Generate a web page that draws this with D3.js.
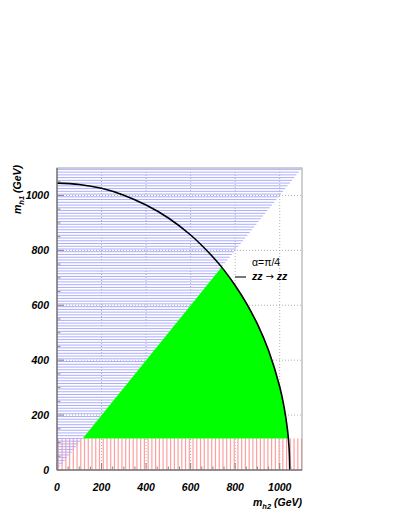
<!DOCTYPE html>
<html><head><meta charset="utf-8">
<script src="https://cdn.jsdelivr.net/npm/d3@7"></script>
<style>
body{margin:0;background:#fff;}
svg{display:block;}
text{font-family:"Liberation Sans",Arial,sans-serif;}
</style></head>
<body>
<script>
// ---- data ----
const xDomain = [0, 1100];
const yDomain = [0, 1100];
const xTicks = [0, 200, 400, 600, 800, 1000];
const yTicks = [0, 200, 400, 600, 800, 1000];
const minorStep = 50;
const lowCut = 115;            // m_h lower cut (GeV)
// unitarity boundary (m_h2, m_h1)
const boundary = [[0,1045],[100,1040],[200,1026],[300,1001],[400,965],[500,918],[600,856],
  [700,776],[750,728],[800,672],[850,608],[900,531],[950,435],[1000,303],[1020,227],[1035,145],[1042,80],[1045,0]];
// allowed region corners (diagonal m_h1 = m_h2 above the cut)
const allowedRegion = [[lowCut,lowCut],[1100,1100],[1100,lowCut]];
// hatch line levels (GeV)
const blueHatch = d3.range(5, 1100, 10);
const redHatch = d3.range(6, 1100, 16.8);
const legendAlpha = "α=π/4";
const legendProc = ["zz", "→", "zz"];

const W = 407, H = 527;
const svg = d3.select("body").append("svg").attr("width", W).attr("height", H);
const x = d3.scaleLinear().domain(xDomain).range([57, 302]);
const y = d3.scaleLinear().domain(yDomain).range([470, 168]);

// grid
const g = svg.append("g");
g.selectAll(".gx").data(xTicks.filter(d => d > 0)).join("line")
  .attr("x1", d => x(d)).attr("x2", d => x(d)).attr("y1", y(0)).attr("y2", y(1100))
  .attr("stroke", "#b0b0b0").attr("stroke-width", 1).attr("stroke-dasharray", "1,2");
g.selectAll(".gy").data(yTicks.filter(d => d > 0)).join("line")
  .attr("y1", d => y(d)).attr("y2", d => y(d)).attr("x1", x(0)).attr("x2", x(1100))
  .attr("stroke", "#b0b0b0").attr("stroke-width", 1).attr("stroke-dasharray", "1,2");

// red vertical hatch (m_h1 below cut)
g.selectAll(".rh").data(redHatch).join("line")
  .attr("x1", d => x(d)).attr("x2", d => x(d)).attr("y1", y(0)).attr("y2", y(lowCut))
  .attr("stroke", "#ff9e9e").attr("stroke-width", 1.2);

// blue horizontal hatch (m_h1 > m_h2)
g.selectAll(".bh").data(blueHatch).join("line")
  .attr("y1", d => y(d)).attr("y2", d => y(d)).attr("x1", x(0)).attr("x2", d => x(Math.min(d, 1100)))
  .attr("stroke", "#acacff").attr("stroke-width", 1);

// clip: inside the boundary
const defs = svg.append("defs");
const lineGen = d3.line().x(d => x(d[0])).y(d => y(d[1])).curve(d3.curveCatmullRom);
defs.append("clipPath").attr("id", "inside").append("path")
  .attr("d", lineGen(boundary) + `L${x(0)},${y(0)}Z`);

g.append("path")
  .attr("d", d3.line().x(d => x(d[0])).y(d => y(d[1]))(allowedRegion) + "Z")
  .attr("fill", "#00ff00").attr("clip-path", "url(#inside)");

// boundary curve
g.append("path").attr("d", lineGen(boundary)).attr("fill", "none")
  .attr("stroke", "#000").attr("stroke-width", 1.6);

// frame
svg.append("rect").attr("x", x(0)).attr("y", y(1100)).attr("width", x(1100) - x(0)).attr("height", y(0) - y(1100))
  .attr("fill", "none").attr("stroke", "#a0a0a0").attr("stroke-width", 1);
svg.append("line").attr("x1", x(0)).attr("x2", x(0)).attr("y1", y(0)).attr("y2", y(1100)).attr("stroke", "#555");
svg.append("line").attr("x1", x(0)).attr("x2", x(1100)).attr("y1", y(0)).attr("y2", y(0)).attr("stroke", "#555");

// ticks (inward)
const minor = d3.range(0, 1100, minorStep);
svg.selectAll(".tx").data(minor).join("line")
  .attr("x1", d => x(d)).attr("x2", d => x(d)).attr("y1", y(0))
  .attr("y2", d => y(0) - (d % 200 === 0 ? 7 : 3.5)).attr("stroke", "#888");
svg.selectAll(".ty").data(minor).join("line")
  .attr("y1", d => y(d)).attr("y2", d => y(d)).attr("x1", x(0))
  .attr("x2", d => x(0) + (d % 200 === 0 ? 7 : 3.5)).attr("stroke", "#888");

// tick labels
svg.selectAll(".lx").data(xTicks).join("text")
  .attr("x", d => x(d)).attr("y", 491).attr("text-anchor", "middle")
  .attr("font-size", 10.5).attr("font-weight", "bold").attr("font-style", "italic").text(d => d);
svg.selectAll(".ly").data(yTicks).join("text")
  .attr("x", 49).attr("y", d => y(d) + 4).attr("text-anchor", "end")
  .attr("font-size", 10.5).attr("font-weight", "bold").attr("font-style", "italic").text(d => d);

// axis titles
const xt = svg.append("text").attr("x", 302).attr("y", 506).attr("text-anchor", "end")
  .attr("font-size", 10.5).attr("font-style", "italic").attr("font-weight", "bold");
xt.append("tspan").text("m");
xt.append("tspan").attr("font-size", 7.5).attr("dy", 3).text("h2");
xt.append("tspan").attr("dy", -3).text(" (GeV)");

const yt = svg.append("text").attr("transform", "translate(21,165) rotate(-90)").attr("text-anchor", "end")
  .attr("font-size", 10.5).attr("font-style", "italic").attr("font-weight", "bold");
yt.append("tspan").text("m");
yt.append("tspan").attr("font-size", 7.5).attr("dy", 3).text("h1");
yt.append("tspan").attr("dy", -3).text(" (GeV)");

// legend
svg.append("text").attr("x", 252).attr("y", 266).attr("font-size", 10.5).attr("font-family", "DejaVu Serif, serif")
  .text(legendAlpha);
svg.append("line").attr("x1", 235).attr("x2", 246).attr("y1", 277).attr("y2", 277)
  .attr("stroke", "#555").attr("stroke-width", 1.6);
const lp = svg.append("text").attr("x", 252).attr("y", 280).attr("font-size", 10.5);
lp.append("tspan").attr("font-weight", "bold").attr("font-style", "italic").text(legendProc[0] + " ");
lp.append("tspan").attr("font-family", "DejaVu Sans, sans-serif").attr("font-size", 10).text(legendProc[1]);
lp.append("tspan").attr("font-weight", "bold").attr("font-style", "italic").text(" " + legendProc[2]);
</script>
</body></html>
